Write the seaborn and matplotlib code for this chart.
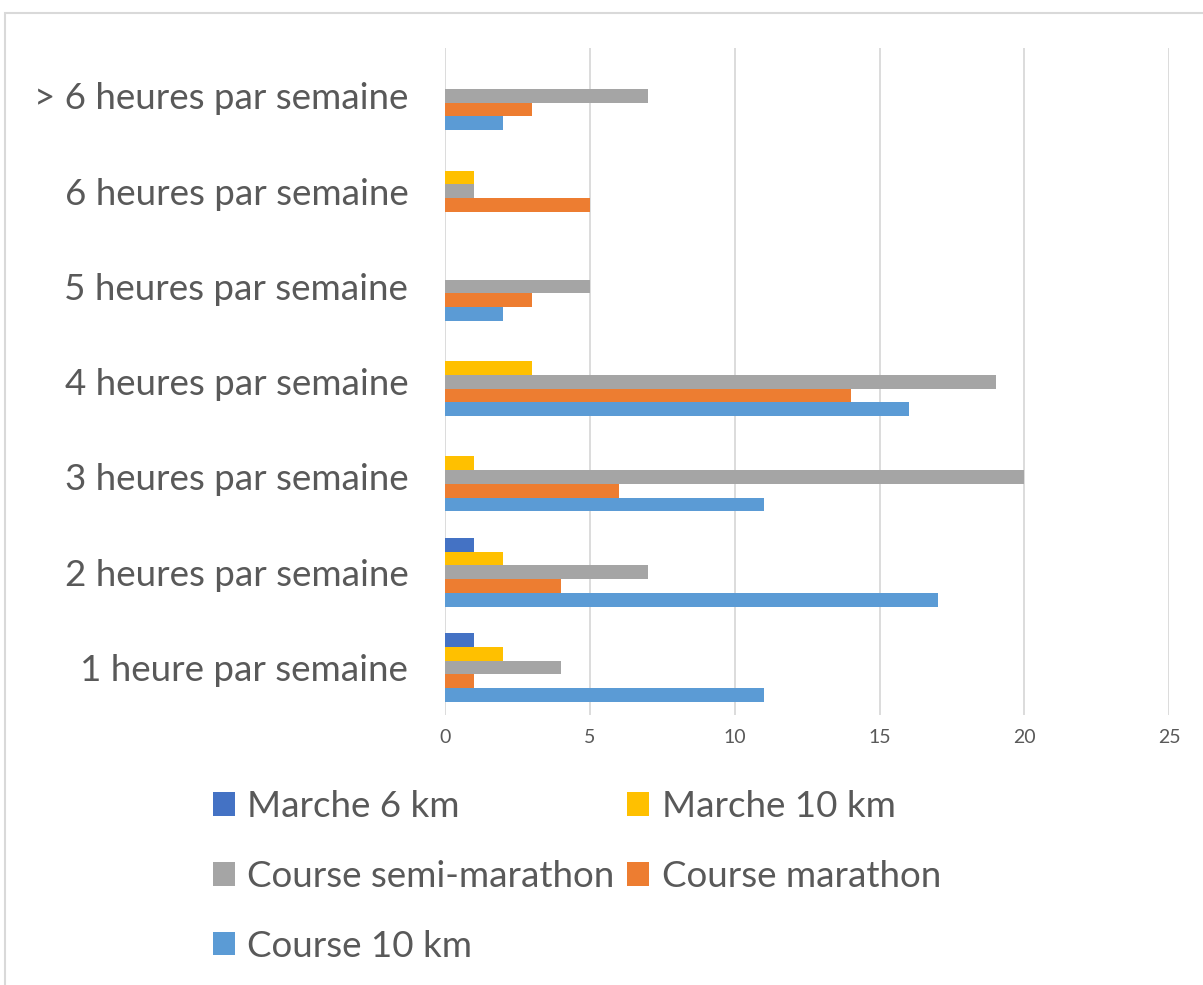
import pandas as pd
import matplotlib
matplotlib.use("Agg")
import matplotlib.pyplot as plt
import matplotlib.patches as mpatches
import seaborn as sns

# categories, top to bottom as drawn
categories = ["> 6 heures par semaine", "6 heures par semaine", "5 heures par semaine",
              "4 heures par semaine", "3 heures par semaine", "2 heures par semaine",
              "1 heure par semaine"]

series_names = ["Marche 6 km", "Marche 10 km", "Course semi-marathon",
                "Course marathon", "Course 10 km"]

marche_6 = [0, 0, 0, 0, 0, 1, 1]
marche_10 = [0, 1, 0, 3, 1, 2, 2]
semi_marathon = [7, 1, 5, 19, 20, 7, 4]
marathon = [3, 5, 3, 14, 6, 4, 1]
course_10 = [2, 0, 2, 16, 11, 17, 11]

colors = ["#4472C4", "#FFC000", "#A5A5A5", "#ED7D31", "#5B9BD5"]

values = [marche_6, marche_10, semi_marathon, marathon, course_10]
rows = []
for name, vals in zip(series_names, values):
    for cat, v in zip(categories, vals):
        rows.append({"Catégorie": cat, "Série": name, "Valeur": v})
df = pd.DataFrame(rows)

sns.set_style("white")
plt.rcParams["font.family"] = ["Lato", "DejaVu Sans"]
text_color = "#595959"

fig = plt.figure(figsize=(12.03, 9.85), dpi=100)
ax = fig.add_axes([0.370, 0.274, 0.602, 0.677])

sns.barplot(data=df, y="Catégorie", x="Valeur", hue="Série",
            order=categories, hue_order=series_names, palette=colors,
            saturation=1, orient="h", width=0.72, gap=0, linewidth=0,
            ax=ax, errorbar=None)

ax.set_xlim(0, 25)
ax.set_ylim(6.5, -0.5)
ax.set_xticks([0, 5, 10, 15, 20, 25])
ax.xaxis.grid(True, color="#D9D9D9", linewidth=1.3)
ax.set_axisbelow(True)
for s in ax.spines.values():
    s.set_visible(False)
ax.set_xlabel("")
ax.set_ylabel("")
ax.tick_params(axis="x", labelsize=14, colors=text_color, length=0, pad=10)
ax.tick_params(axis="y", labelsize=26.5, colors=text_color, length=0, pad=26.5)

handles, labels = ax.get_legend_handles_labels()
ax.get_legend().remove()
order = [0, 2, 4, 1, 3]
fig.legend([handles[i] for i in order], [labels[i] for i in order],
           loc="upper left", bbox_to_anchor=(213 / 1203, 1 - 790 / 985), ncol=2,
           frameon=False, borderpad=0, borderaxespad=0,
           fontsize=26.5, labelcolor=text_color, handlelength=0.6, handleheight=0.6,
           handletextpad=0.33, columnspacing=0.35, labelspacing=1.0)

# chart border
fig.patches.append(mpatches.Rectangle((5 / 1203, -0.05), 1.2, 1 - 13 / 985 + 0.05,
                                      transform=fig.transFigure, fill=False,
                                      edgecolor="#D9D9D9", linewidth=1.5))

fig.savefig("out.png", dpi=100)
